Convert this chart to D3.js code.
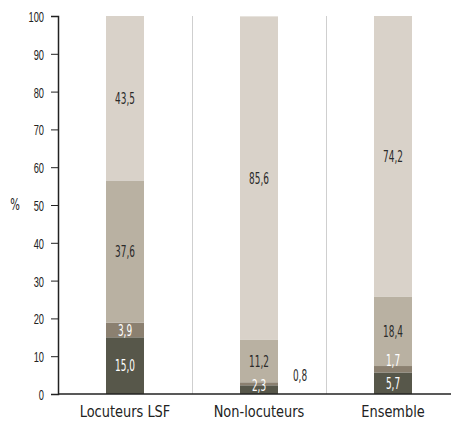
<!DOCTYPE html>
<html>
<head>
<meta charset="utf-8">
<script src="https://cdn.jsdelivr.net/npm/d3@7"></script>
<style>
  body { margin: 0; background: #fff; }
  svg { display: block; font-family: "DejaVu Sans Condensed", "DejaVu Sans", sans-serif; font-stretch: condensed; }
</style>
</head>
<body>
<svg id="chart"></svg>
<script>
// categories and stacked series (bottom to top)
const categories = ['Locuteurs LSF', 'Non-locuteurs', 'Ensemble'];
const seriesDark = [15.0, 2.3, 5.7];
const seriesMidDark = [3.9, 0.8, 1.7];
const seriesMid = [37.6, 11.2, 18.4];
const seriesLight = [43.5, 85.6, 74.2];
const yTicks = [0, 10, 20, 30, 40, 50, 60, 70, 80, 90, 100];

const width = 451;
const height = 428;
const svg = d3.select('#chart').attr('width', width).attr('height', height);

const padLeft = 58;
const padTop = 16;
const padBottom = 34;
const bandW = 134;

const x = d3.scaleBand().domain(categories).range([padLeft, padLeft + bandW * categories.length]).padding(0);
const y = d3.scaleLinear().domain([0, 100]).range([height - padBottom, padTop]);
const barW = 38;

const layers = [
  { key: 'dark', values: seriesDark, fill: '#57574a', text: '#fff' },
  { key: 'middark', values: seriesMidDark, fill: '#8b8070', text: '#fff' },
  { key: 'mid', values: seriesMid, fill: '#b9b1a2', text: '#2a2a2a' },
  { key: 'light', values: seriesLight, fill: '#d9d2c9', text: '#2a2a2a' }
];

const rows = categories.map((c, i) => {
  const r = { cat: c };
  layers.forEach(l => { r[l.key] = l.values[i]; });
  return r;
});
const stacked = d3.stack().keys(layers.map(l => l.key))(rows);

// squeeze text horizontally to mimic the condensed face of the original
function narrowText(sel, tx, ty, anchor, sx) {
  sel.attr('transform', `translate(${tx},${ty}) scale(${sx},1)`)
    .attr('text-anchor', anchor);
  return sel;
}

// separators
categories.slice(1).forEach(c => {
  svg.append('line')
    .attr('x1', x(c) + 0.5).attr('x2', x(c) + 0.5)
    .attr('y1', y(100)).attr('y2', y(0))
    .attr('stroke', '#cfcfcf').attr('stroke-width', 1);
});

// bars
stacked.forEach((s, li) => {
  svg.append('g').selectAll('rect')
    .data(s)
    .join('rect')
    .attr('x', d => x(d.data.cat) + (x.bandwidth() - barW) / 2)
    .attr('width', barW)
    .attr('y', d => y(d[1]))
    .attr('height', d => y(d[0]) - y(d[1]))
    .attr('fill', layers[li].fill);
});

// value labels
stacked.forEach((s, li) => {
  const layer = layers[li];
  s.forEach(d => {
    const v = d[1] - d[0];
    const cx = x(d.data.cat) + x.bandwidth() / 2;
    let ty = (y(d[0]) + y(d[1])) / 2;
    let tx = cx;
    let fill = layer.text;
    if (v < 1) {
      // too thin: label beside the bar
      tx = cx + barW / 2 + 22;
      ty = y(d[0]) - 10;
      fill = '#2a2a2a';
    } else if (v < 3) {
      if (layer.key === 'dark') ty = y(0) - 9;
      if (layer.key === 'middark') ty = y(d[0]) - 12;
    }
    const t = svg.append('text')
      .attr('dy', '0.36em')
      .attr('font-size', 16)
      .attr('fill', fill)
      .text(d3.format('.1f')(v).replace('.', ','));
    narrowText(t, tx, ty, 'middle', 0.62);
  });
});

// y axis
const yAxis = d3.axisLeft(y).tickValues(yTicks).tickSize(7).tickPadding(5);
const yG = svg.append('g').attr('transform', `translate(${padLeft},0)`).call(yAxis);
yG.select('.domain').attr('stroke', '#222').attr('stroke-width', 1.5);
yG.selectAll('.tick line').attr('stroke', '#222');
yG.selectAll('text')
  .attr('font-size', 15).attr('fill', '#222').style('font-family', 'inherit')
  .attr('x', null).attr('dy', '0.36em')
  .attr('transform', 'translate(-14,0) scale(0.62,1)');

// x axis line
svg.append('line')
  .attr('x1', padLeft).attr('x2', width)
  .attr('y1', y(0)).attr('y2', y(0))
  .attr('stroke', '#222').attr('stroke-width', 1.5);

// category labels
categories.forEach(c => {
  const t = svg.append('text')
    .attr('font-size', 15.5)
    .attr('fill', '#222')
    .text(c);
  narrowText(t, x(c) + x.bandwidth() / 2, y(0) + 23, 'middle', 0.93);
});

// y axis title
const yt = svg.append('text')
  .attr('dy', '0.36em')
  .attr('font-size', 15)
  .attr('fill', '#222')
  .text('%');
narrowText(yt, 15, y(50), 'middle', 0.75);
</script>
</body>
</html>
